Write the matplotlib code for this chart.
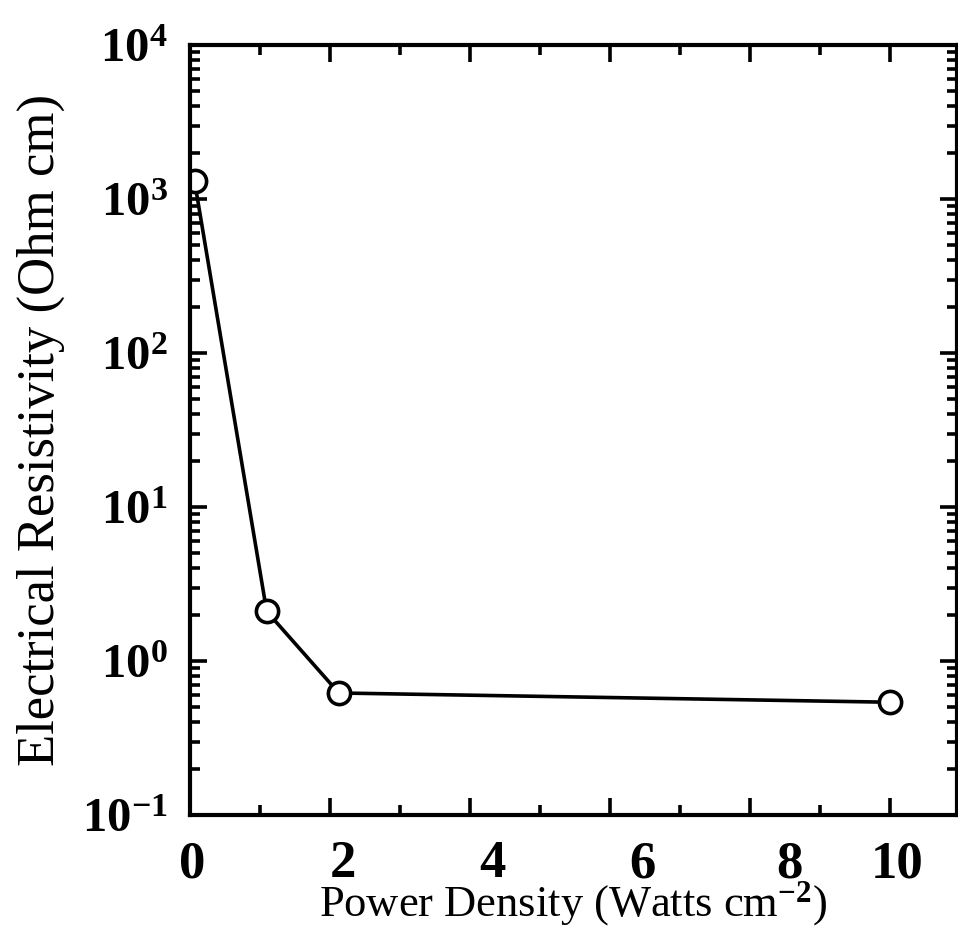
import numpy as np
import matplotlib
matplotlib.use('Agg')
import matplotlib.pyplot as plt
from matplotlib.ticker import LogLocator, NullFormatter, FixedLocator

# Datos
power_density = [0.07, 1.1, 2.13, 10.0]          # Watts cm^-2
resistivity = [1300.0, 2.1, 0.62, 0.54]          # Ohm cm

x_major = [0, 2, 4, 6, 8, 10]
x_minor = [1, 3, 5, 7, 9]
x_labels = ['0', '2', '4', '6', '8', '10']
x_label_pos = [0.04, 2.19, 4.33, 6.47, 8.57, 10.11]   # etiquetas corridas como en el original
y_major = [1e-1, 1e0, 1e1, 1e2, 1e3, 1e4]
y_labels = ['10$^{-1}$', '10$^{0}$', '10$^{1}$', '10$^{2}$', '10$^{3}$', '10$^{4}$']

plt.rcParams['font.family'] = 'Liberation Serif'
plt.rcParams['mathtext.fontset'] = 'custom'
plt.rcParams['mathtext.rm'] = 'Liberation Serif:bold'
plt.rcParams['mathtext.bf'] = 'Liberation Serif:bold'
plt.rcParams['mathtext.default'] = 'bf'

fig = plt.figure(figsize=(9.58, 9.34), dpi=100)
ax = fig.add_axes([0.198, 0.1274, 0.801, 0.8244])

ax.plot(power_density, resistivity, color='black', linewidth=2.6,
        marker='o', markersize=16, markerfacecolor='white',
        markeredgecolor='black', markeredgewidth=2.6)

ax.set_yscale('log')
ax.set_xlim(0, 10.96)
ax.set_ylim(1e-1, 1e4)

ax.set_xticks(x_major)
ax.xaxis.set_minor_locator(FixedLocator(x_minor))
ax.tick_params(axis='x', labelbottom=False)

ax.set_yticks(y_major)
ax.set_yticklabels(y_labels, fontsize=35, fontweight='bold')
ax.yaxis.set_minor_locator(LogLocator(base=10, subs=np.arange(2, 10)))
ax.yaxis.set_minor_formatter(NullFormatter())

ax.tick_params(which='both', direction='in', top=True, right=True, width=2.6)
ax.tick_params(which='major', length=12)
ax.tick_params(which='minor', length=7)
ax.tick_params(axis='y', which='major', pad=16)

for s in ax.spines.values():
    s.set_linewidth(3)

sec = ax.secondary_xaxis('bottom')
sec.set_xticks(x_label_pos, x_labels, fontsize=38, fontweight='bold')
sec.tick_params(length=0, pad=18)
sec.spines['bottom'].set_visible(False)
sec.set_xlabel('Power Density (Watts cm$^{-2}$)', fontsize=32, labelpad=-6)

ax.set_ylabel('Electrical Resistivity (Ohm cm)', fontsize=38, labelpad=12)

fig.savefig('out.png', dpi=100)
